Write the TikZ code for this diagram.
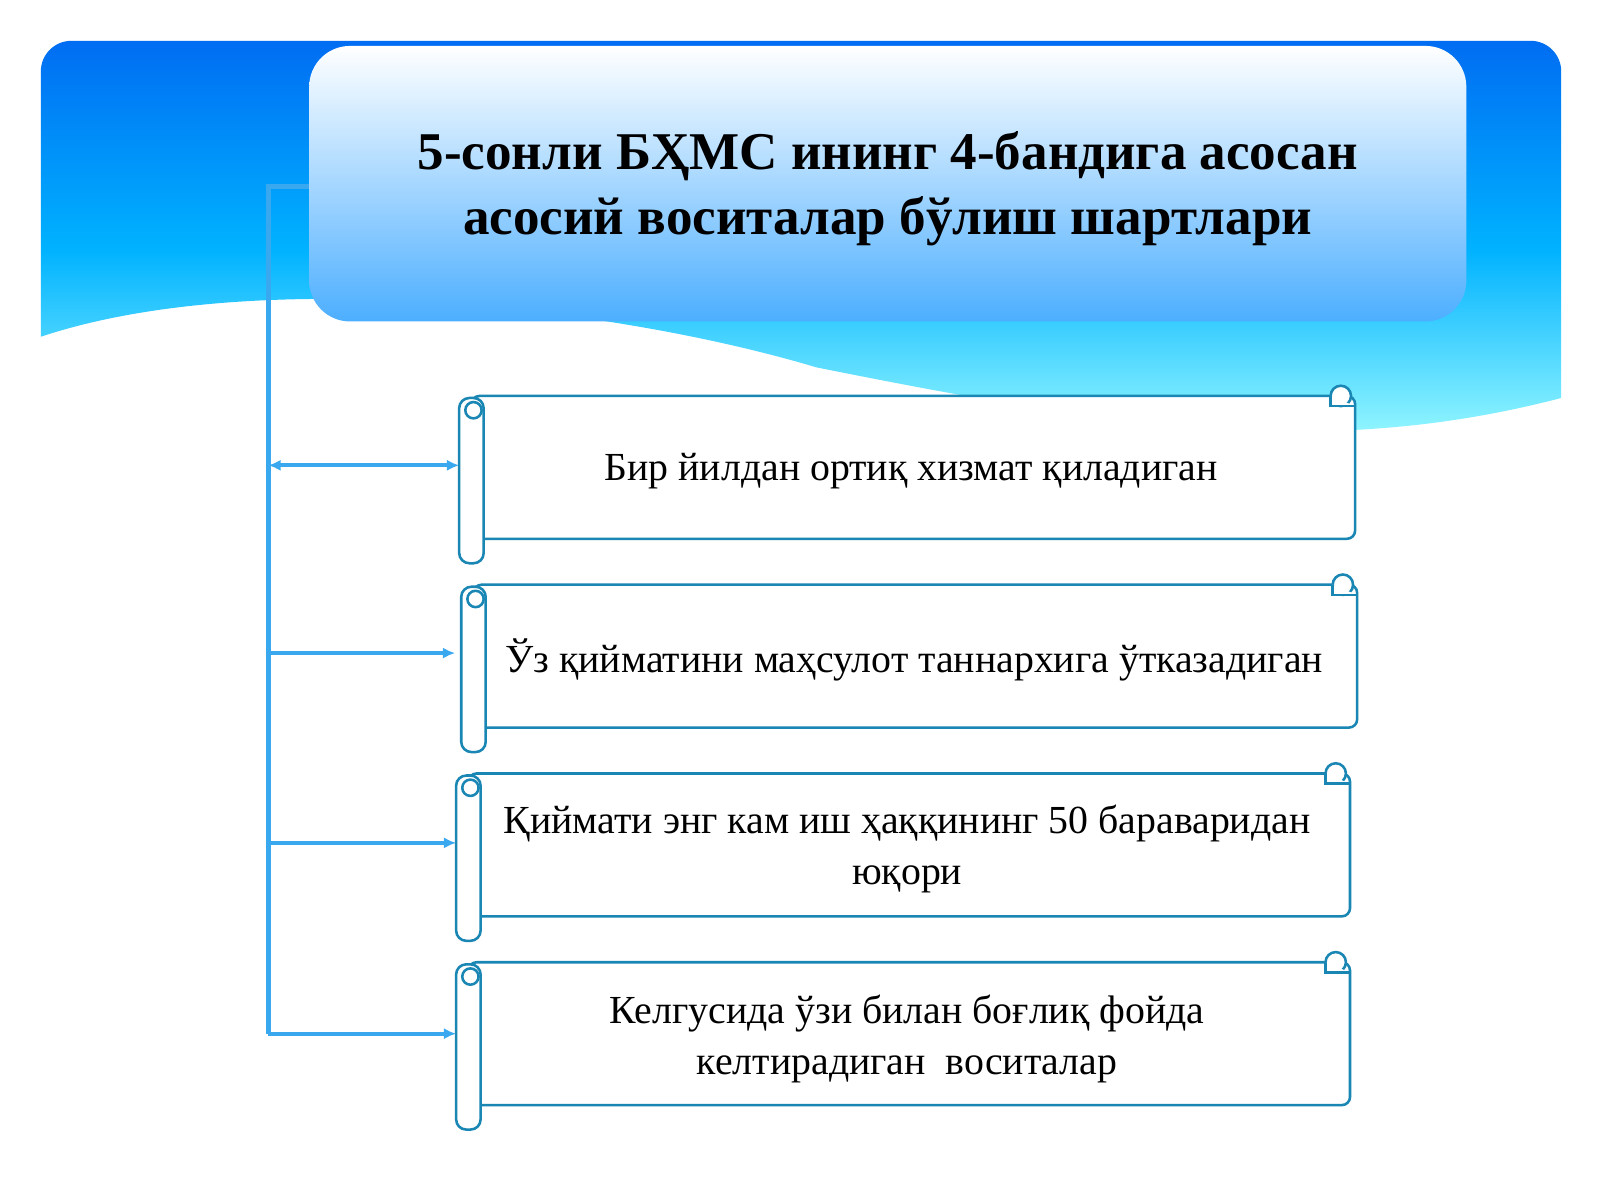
\documentclass[tikz,border=0pt]{standalone}
\usetikzlibrary{arrows.meta}
\usepackage{fontspec}
\setmainfont{Liberation Serif}
\definecolor{conn}{HTML}{3AA8EE}
\definecolor{scr}{HTML}{1A86B4}
\begin{document}
\begin{tikzpicture}[x=1pt,y=-1pt,
  ln/.style={draw=conn, line width=4.5pt},
  arr/.style={ln, line width=4pt, -{Latex[length=12pt,width=11pt]}},
  sc/.style={draw=scr, line width=2.5pt, fill=white},
  txt/.style={font=\fontsize{39}{50}\selectfont, align=center}]
\useasboundingbox (0,0) rectangle (1568,1176);
\fill[white] (0,0) rectangle (1568,1176);
% blue background band
\shade[top color=blue!55!cyan!95!black, bottom color=cyan!35, middle color=cyan!70!blue]
 [rounded corners=30pt] (40,330) -- (40,40) -- (1530,40) [sharp corners] -- (1530,390)
 .. controls (1300,450) and (1100,420) .. (800,360) .. controls (600,300) and (250,260) .. (40,330) -- cycle;
% title box
\shade[rounded corners=40pt, top color=white, bottom color=cyan!55!blue!70]
 (303,45) rectangle (1437,315);
\node[font=\bfseries\fontsize{52}{64}\selectfont, align=center] (title) at (870,185)
 {5-сонли БҲМС ининг 4-бандига асосан\\асосий воситалар бўлиш шартлари};
% connector
\coordinate (t) at (303,183);
\coordinate (c) at (263,183);
\coordinate (b) at (263,1013);
\draw[ln] (t) -- (c) -- (b);
% scrolls
\foreach \n/\x/\y/\r in {1/450/388/1328, 2/452/573/1330, 3/447/758/1323, 4/447/943/1323}{
  \draw[sc, rounded corners=8pt] (\x+12,\y) rectangle (\r,\y+140);
  \draw[sc] (\r-14,\y) circle[radius=10];
  \draw[sc] (\r-24,\y) -- (\r-24,\y+10) -- (\r,\y+10);
  \draw[sc, rounded corners=10pt] (\x,\y+2) rectangle (\x+24,\y+164);
  \draw[sc] (\x+14,\y+14) circle[radius=8];
  \coordinate (s\n) at (\x,\y+68);
}
\node[txt] (n1) at (893,462) {Бир йилдан ортиқ хизмат қиладиган};
\node[txt] (n2) at (896,647) {Ўз қийматини маҳсулот таннархига ўтказадиган};
\node[txt] (n3) at (889,832) {Қиймати энг кам иш ҳаққининг 50 бараваридан\\юқори};
\node[txt] (n4) at (889,1018) {Келгусида ўзи билан боғлиқ фойда\\келтирадиган\ \ воситалар};
\coordinate (a1) at (263,456);\coordinate (a2) at (263,640);
\coordinate (a3) at (263,826);\coordinate (a4) at (263,1013);
\draw[arr, {Latex[length=12pt,width=11pt]}-{Latex[length=12pt,width=11pt]}] (a1) -- (s1|-a1);
\draw[arr] (a2) -- ([xshift=-6pt]s2|-a2);
\draw[arr] (a3) -- (s3|-a3);
\draw[arr] (a4) -- (s4|-a4);
\end{tikzpicture}
\end{document}
